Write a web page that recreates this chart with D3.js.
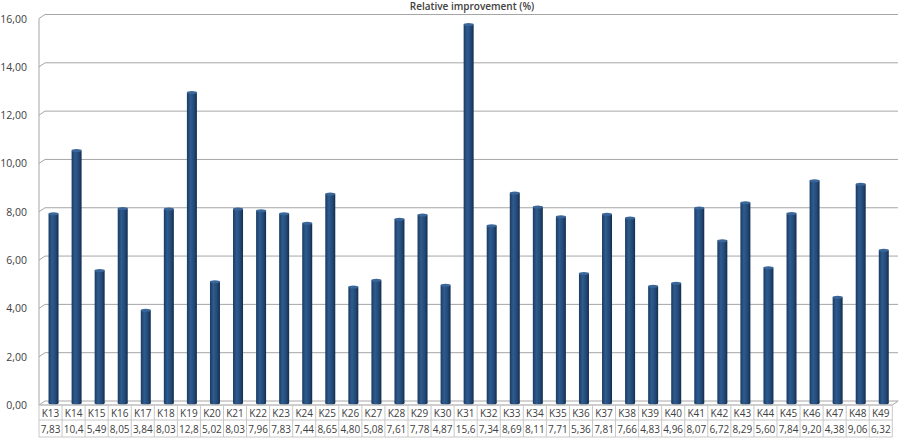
<!DOCTYPE html>
<html>
<head>
<meta charset="utf-8">
<script src="https://cdn.jsdelivr.net/npm/d3@7"></script>
<style>
    body { margin: 0; background: #fff; }
    svg { display: block; font-family: "Open Sans", "Liberation Sans", sans-serif; }
</style>
</head>
<body>
<div id="chart"></div>
<script>
// DATA
// ================================================================================== //
const categories = ["K13", "K14", "K15", "K16", "K17", "K18", "K19", "K20", "K21", "K22",
    "K23", "K24", "K25", "K26", "K27", "K28", "K29", "K30", "K31", "K32", "K33", "K34",
    "K35", "K36", "K37", "K38", "K39", "K40", "K41", "K42", "K43", "K44", "K45", "K46",
    "K47", "K48", "K49"]
const values = [7.83, 10.45, 5.49, 8.05, 3.84, 8.03, 12.85, 5.02, 8.03, 7.96,
    7.83, 7.44, 8.65, 4.80, 5.08, 7.61, 7.78, 4.87, 15.67, 7.34, 8.69, 8.11,
    7.71, 5.36, 7.81, 7.66, 4.83, 4.96, 8.07, 6.72, 8.29, 5.60, 7.84, 9.20,
    4.38, 9.06, 6.32]
const yTicks = [0, 2, 4, 6, 8, 10, 12, 14, 16]
const title = "Relative improvement (%)"

const DATA = categories.map((c, i) => ({ cat: c, value: values[i] }))
// ================================================================================== //

const width = 902
const height = 438
const margin = ({ top: 18.5, right: 10, bottom: 33, left: 39 })
const depth = ({ dx: 6, dy: -4 })   // fake 3d wall offset

const fmt = v => d3.format(".2f")(v).replace(".", ",")

const x = d3.scaleBand()
    .domain(categories)
    .range([margin.left, 892.3])

const y = d3.scaleLinear()
    .domain([0, 16])
    .range([height - margin.bottom, margin.top])

const svg = d3.select("#chart")
    .append("svg")
    .attr("width", width)
    .attr("height", height)

// gradient for the cylinders
const defs = svg.append("defs")
const grad = defs.append("linearGradient").attr("id", "barGrad")
    .attr("x1", "0%").attr("x2", "100%")
grad.append("stop").attr("offset", "0%").attr("stop-color", "#1a3a63")
grad.append("stop").attr("offset", "35%").attr("stop-color", "#2f5b8e")
grad.append("stop").attr("offset", "70%").attr("stop-color", "#234a78")
grad.append("stop").attr("offset", "100%").attr("stop-color", "#142d4e")

// gridlines on the back wall + slanted side ticks
const grid = svg.append("g")
grid.selectAll("line.grid")
    .data(yTicks)
    .join("line")
    .attr("class", "grid")
    .attr("x1", margin.left + depth.dx)
    .attr("x2", 898)
    .attr("y1", d => y(d) + depth.dy)
    .attr("y2", d => y(d) + depth.dy)
    .attr("stroke", "#a6a6a6")
grid.selectAll("line.slant")
    .data(yTicks)
    .join("line")
    .attr("class", "slant")
    .attr("x1", margin.left)
    .attr("x2", margin.left + depth.dx)
    .attr("y1", d => y(d))
    .attr("y2", d => y(d) + depth.dy)
    .attr("stroke", "#a6a6a6")

// front axis line
svg.append("line")
    .attr("x1", margin.left).attr("x2", margin.left)
    .attr("y1", y(0)).attr("y2", y(16))
    .attr("stroke", "#a6a6a6")

// floor front edge + right slant
svg.append("line")
    .attr("x1", margin.left).attr("x2", x.range()[1])
    .attr("y1", y(0)).attr("y2", y(0))
    .attr("stroke", "#a6a6a6")
svg.append("line")
    .attr("x1", x.range()[1]).attr("x2", x.range()[1] + depth.dx)
    .attr("y1", y(0)).attr("y2", y(0) + depth.dy)
    .attr("stroke", "#a6a6a6")

// y labels
svg.append("g")
    .selectAll("text")
    .data(yTicks)
    .join("text")
    .attr("x", 27)
    .attr("y", d => y(d) + 4)
    .attr("text-anchor", "end")
    .attr("font-size", 10.5)
    .attr("fill", "#404040")
    .text(d => fmt(d))

// title
svg.append("text")
    .attr("x", 472)
    .attr("y", 10)
    .attr("text-anchor", "middle")
    .attr("font-size", 10)
    .attr("font-weight", 600)
    .attr("fill", "#404040")
    .text(title)

// bars (cylinders)
const barW = 10
const bars = svg.append("g")
    .selectAll("g")
    .data(DATA)
    .join("g")
    .attr("transform", d => `translate(${x(d.cat) + x.bandwidth() / 2 + depth.dx / 2},${depth.dy / 2})`)

bars.append("rect")
    .attr("x", -barW / 2)
    .attr("width", barW)
    .attr("y", d => y(d.value))
    .attr("height", d => y(0) - y(d.value))
    .attr("fill", "url(#barGrad)")
bars.append("ellipse")
    .attr("cx", 0)
    .attr("cy", y(0))
    .attr("rx", barW / 2)
    .attr("ry", 1.5)
    .attr("fill", "url(#barGrad)")
bars.append("ellipse")
    .attr("cx", 0)
    .attr("cy", d => y(d.value))
    .attr("rx", barW / 2)
    .attr("ry", 1.5)
    .attr("fill", "#3a6699")

// data table under the chart
const rowTop = y(0)
const rowMid = 420
const rowBot = 437
const table = svg.append("g")
table.selectAll("line.h")
    .data([rowTop, rowMid, rowBot])
    .join("line")
    .attr("class", "h")
    .attr("x1", margin.left).attr("x2", x.range()[1])
    .attr("y1", d => d).attr("y2", d => d)
    .attr("stroke", "#c8c8c8")
table.selectAll("line.v")
    .data([...categories.map(c => x(c)), x.range()[1]])
    .join("line")
    .attr("class", "v")
    .attr("x1", d => d).attr("x2", d => d)
    .attr("y1", rowTop).attr("y2", rowBot)
    .attr("stroke", "#c8c8c8")

table.selectAll("text.cat")
    .data(DATA)
    .join("text")
    .attr("class", "cat")
    .attr("x", d => x(d.cat) + x.bandwidth() / 2)
    .attr("y", rowMid - 3.5)
    .attr("text-anchor", "middle")
    .attr("font-size", 10)
    .attr("fill", "#404040")
    .text(d => d.cat)

// the cells are too narrow for the whole number, so only 4 characters show
table.selectAll("text.val")
    .data(DATA)
    .join("text")
    .attr("class", "val")
    .attr("x", d => x(d.cat) + x.bandwidth() / 2)
    .attr("y", rowBot - 4)
    .attr("text-anchor", "middle")
    .attr("font-size", 10)
    .attr("fill", "#404040")
    .text(d => fmt(d.value).slice(0, 4))
</script>
</body>
</html>
